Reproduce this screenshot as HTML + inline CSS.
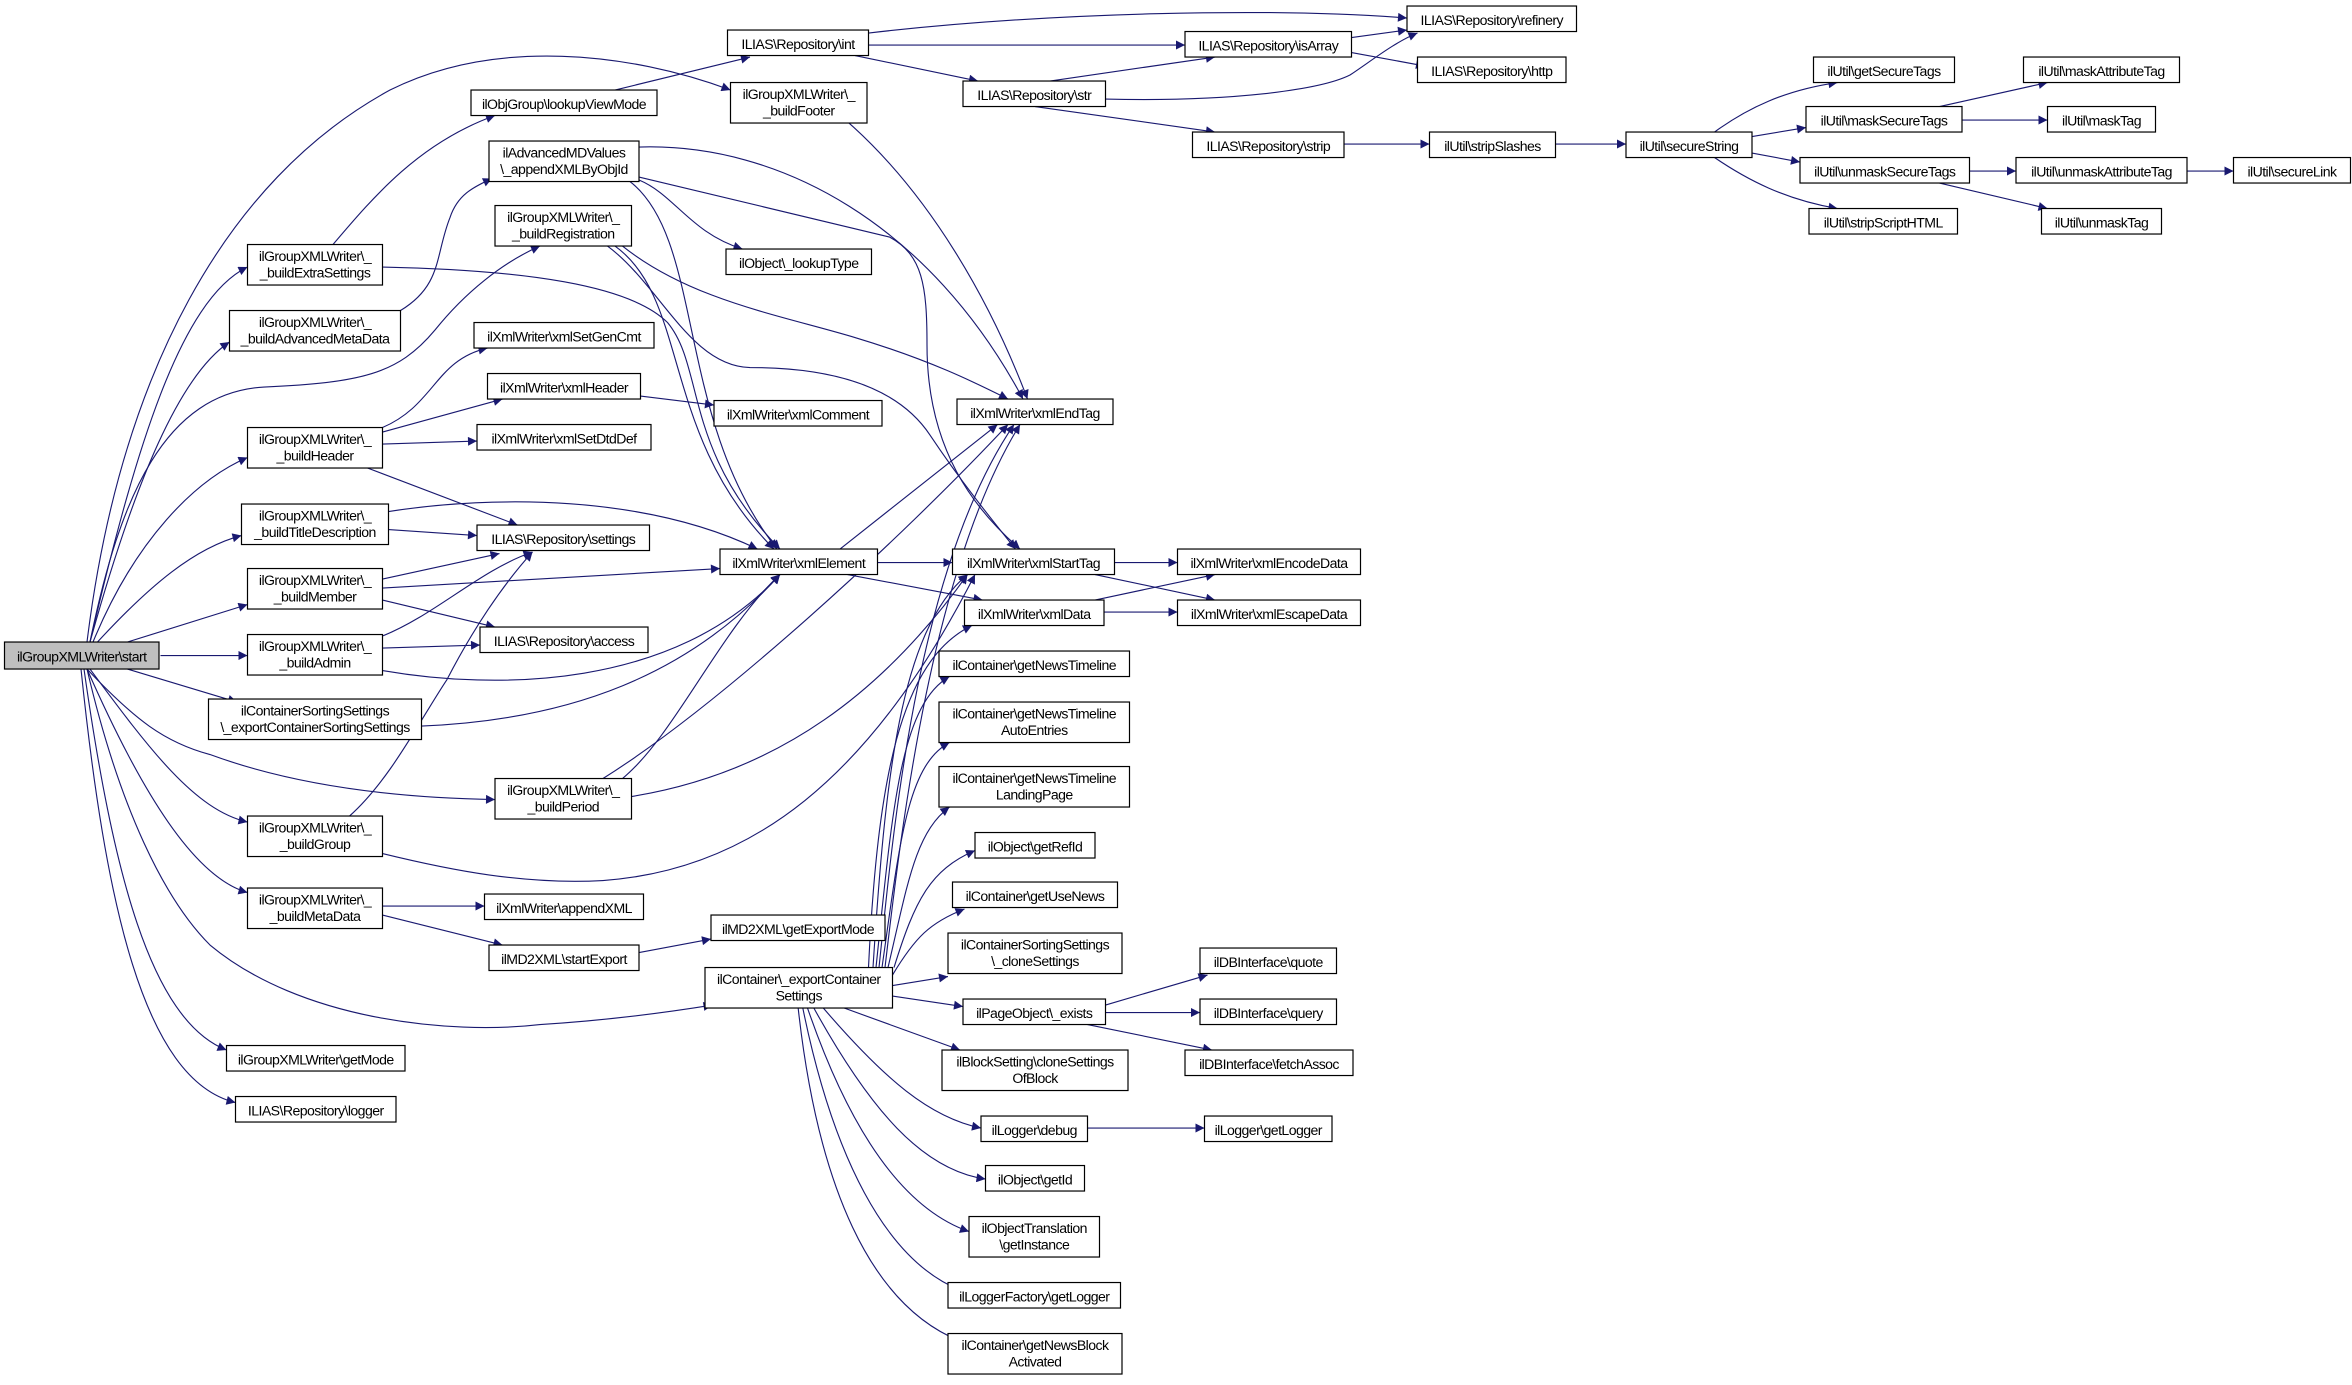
<!DOCTYPE html>
<html><head><meta charset="utf-8"><style>
html,body{margin:0;padding:0;background:#fff}
svg{display:block}
text{font-family:"Liberation Sans",sans-serif;font-size:9.4px;letter-spacing:-0.38px;fill:#000;text-anchor:middle}
.n{fill:#fff;stroke:#000;stroke-width:0.8}
.e{fill:none;stroke:#191970;stroke-width:0.75}
</style></head><body>
<svg width="2352" height="1385" viewBox="0 0 1568 923.3" xmlns="http://www.w3.org/2000/svg">
<defs><marker id="a" viewBox="0 0 10 10" refX="10" refY="5" markerWidth="8" markerHeight="6" markerUnits="userSpaceOnUse" orient="auto"><path d="M0,0 L10,5 L0,10 z" fill="#191970"/></marker></defs>
<g class="e" marker-end="url(#a)">
<!-- start edges -->
<path d="M58,428 C80,250 150,120 260,60 C330,25 420,35 487,60"/>
<path d="M60,428 C90,300 120,200 165,178"/>
<path d="M60,428 C90,320 120,250 153,228"/>
<path d="M60,428 C80,330 110,262 176,258 C240,255 265,250 290,220 C310,195 335,175 360,164"/>
<path d="M62,428 C90,360 130,320 165,305"/>
<path d="M65,428 C100,390 130,365 161,357"/>
<path d="M85,428 L165,403"/>
<path d="M107,437 L165,437"/>
<path d="M85,446 L158,468"/>
<path d="M58,446 C90,480 110,495 140,503 C200,525 270,532 330,533"/>
<path d="M60,446 C100,500 130,540 165,548"/>
<path d="M58,446 C95,530 130,585 165,595"/>
<path d="M58,446 C80,540 110,600 140,630 C200,680 300,690 360,683 C410,680 450,674 475,670"/>
<path d="M56,446 C75,580 100,680 151,700"/>
<path d="M54,446 C70,600 95,720 157,735"/>
<!-- second column -->
<path d="M222,163 C250,130 280,95 330,77"/>
<path d="M255,178 C350,180 420,190 445,215 C470,245 455,300 520,366"/>
<path d="M267,207 C295,190 290,170 300,145 C305,130 315,125 328,119"/>
<path d="M426,120 C450,130 460,155 495,166"/>
<path d="M420,121 C470,160 450,280 518,366"/>
<path d="M426,98 C520,95 620,150 682,266"/>
<path d="M426,118 L593,158 C615,170 618,190 618,230 C618,300 650,340 680,366"/>
<path d="M410,164 C460,200 440,290 516,366"/>
<path d="M415,164 C460,200 520,210 570,225 C620,240 650,255 672,266"/>
<path d="M405,164 C440,190 460,244 500,245 C560,245 600,260 620,290 C640,320 660,345 677,366"/>
<path d="M410,60 L500,38"/>
<path d="M255,285 C290,270 290,240 325,232"/>
<path d="M255,288 L335,266"/>
<path d="M255,296 L318,294"/>
<path d="M245,312 L345,350"/>
<path d="M427,264 L476,270"/>
<path d="M259,353 L318,357"/>
<path d="M259,341 C330,330 430,330 505,366"/>
<path d="M255,386 L333,369"/>
<path d="M255,392 L480,379"/>
<path d="M255,400 L330,418"/>
<path d="M255,424 C290,410 320,380 355,368"/>
<path d="M255,432 L320,430"/>
<path d="M255,447 C330,460 450,460 520,383"/>
<path d="M281,484 C380,480 460,450 520,383"/>
<path d="M402,519 C480,470 600,360 672,283"/>
<path d="M415,519 C450,490 480,420 520,383"/>
<path d="M421,531 C520,515 590,460 645,383"/>
<path d="M233,544 C260,520 280,480 298,453 C315,420 335,390 355,368"/>
<path d="M255,569 C300,580 350,590 402,587 C500,580 580,520 650,383"/>
<path d="M255,604 L323,604"/>
<path d="M255,610 L335,630"/>
<path d="M426,635 L474,626"/>
<!-- top right -->
<path d="M579,22 C700,8 850,5 938,12"/>
<path d="M579,30 L790,30"/>
<path d="M570,37 L652,54"/>
<path d="M700,54 L810,38"/>
<path d="M737,66 C820,68 880,60 900,50 C915,40 930,28 945,22"/>
<path d="M901,25 L938,20"/>
<path d="M901,35 L950,44"/>
<path d="M690,71 L810,88"/>
<path d="M896,96 L953,96"/>
<path d="M1037,96 L1084,96"/>
<path d="M1143,88 C1165,72 1190,60 1225,55"/>
<path d="M1168,91 L1204,85"/>
<path d="M1168,102 L1200,108"/>
<path d="M1143,105 C1165,120 1190,133 1225,139"/>
<path d="M1293,71 L1365,55"/>
<path d="M1308,80 L1365,80"/>
<path d="M1313,114 L1344,114"/>
<path d="M1293,122 L1365,139"/>
<path d="M1458,114 L1489,114"/>
<!-- xml cluster -->
<path d="M566,82 C620,130 660,200 685,266"/>
<path d="M560,366 L665,283"/>
<path d="M585,375 L635,375"/>
<path d="M565,383 L655,400"/>
<path d="M743,375 L785,375"/>
<path d="M730,383 L810,400"/>
<path d="M730,400 L810,383"/>
<path d="M736,408 L785,408"/>
<!-- exportContainerSettings -->
<path d="M590,645 C600,560 620,380 680,283"/>
<path d="M586,645 C595,560 610,380 676,283"/>
<path d="M582,645 C590,520 600,420 645,383"/>
<path d="M579,645 C585,520 600,440 648,417"/>
<path d="M584,645 C595,540 600,470 633,451"/>
<path d="M588,645 C600,560 605,510 633,495"/>
<path d="M592,645 C605,590 610,555 633,538"/>
<path d="M596,645 C610,600 620,580 650,567"/>
<path d="M595,650 C610,625 620,615 643,606"/>
<path d="M595,657 L632,651"/>
<path d="M595,664 L642,671"/>
<path d="M560,671 L640,700"/>
<path d="M548,671 C590,720 620,745 654,752"/>
<path d="M542,671 C580,740 615,780 657,786"/>
<path d="M538,671 C565,750 600,805 646,821"/>
<path d="M535,671 C555,770 590,840 640,860"/>
<path d="M532,671 C545,790 580,870 640,894"/>
<path d="M737,670 L805,650"/>
<path d="M737,675 L800,675"/>
<path d="M725,683 L808,700"/>
<path d="M725,752 L803,752"/>
</g>
<g>
<rect class="n" x="3" y="428" width="103" height="18" style="fill:#bfbfbf"/><text x="54.5" y="441">ilGroupXMLWriter\start</text>
<rect class="n" x="314" y="60" width="124" height="17"/><text x="376" y="72.5">ilObjGroup\lookupViewMode</text>
<rect class="n" x="485" y="20" width="94" height="17"/><text x="532" y="32.5">ILIAS\Repository\int</text>
<rect class="n" x="484" y="166" width="97" height="17"/><text x="532.5" y="178.5">ilObject\_lookupType</text>
<rect class="n" x="316" y="215" width="120" height="17"/><text x="376" y="227.5">ilXmlWriter\xmlSetGenCmt</text>
<rect class="n" x="325" y="249" width="102" height="17"/><text x="376" y="261.5">ilXmlWriter\xmlHeader</text>
<rect class="n" x="476" y="267" width="112" height="17"/><text x="532" y="279.5">ilXmlWriter\xmlComment</text>
<rect class="n" x="318" y="283" width="116" height="17"/><text x="376" y="295.5">ilXmlWriter\xmlSetDtdDef</text>
<rect class="n" x="318" y="350" width="115" height="17"/><text x="375.5" y="362.5">ILIAS\Repository\settings</text>
<rect class="n" x="480" y="366" width="105" height="17"/><text x="532.5" y="378.5">ilXmlWriter\xmlElement</text>
<rect class="n" x="320" y="418" width="112" height="17"/><text x="376" y="430.5">ILIAS\Repository\access</text>
<rect class="n" x="323" y="596" width="106" height="17"/><text x="376" y="608.5">ilXmlWriter\appendXML</text>
<rect class="n" x="474" y="610" width="116" height="17"/><text x="532" y="622.5">ilMD2XML\getExportMode</text>
<rect class="n" x="326" y="630" width="100" height="17"/><text x="376" y="642.5">ilMD2XML\startExport</text>
<rect class="n" x="151" y="697" width="119" height="17"/><text x="210.5" y="709.5">ilGroupXMLWriter\getMode</text>
<rect class="n" x="157" y="731" width="107" height="17"/><text x="210.5" y="743.5">ILIAS\Repository\logger</text>
<rect class="n" x="938" y="4" width="113" height="17"/><text x="994.5" y="16.5">ILIAS\Repository\refinery</text>
<rect class="n" x="790" y="21" width="111" height="17"/><text x="845.5" y="33.5">ILIAS\Repository\isArray</text>
<rect class="n" x="945" y="38" width="99" height="17"/><text x="994.5" y="50.5">ILIAS\Repository\http</text>
<rect class="n" x="642" y="54" width="95" height="17"/><text x="689.5" y="66.5">ILIAS\Repository\str</text>
<rect class="n" x="795" y="88" width="101" height="17"/><text x="845.5" y="100.5">ILIAS\Repository\strip</text>
<rect class="n" x="953" y="88" width="84" height="17"/><text x="995" y="100.5">ilUtil\stripSlashes</text>
<rect class="n" x="638" y="266" width="104" height="17"/><text x="690" y="278.5">ilXmlWriter\xmlEndTag</text>
<rect class="n" x="635" y="366" width="108" height="17"/><text x="689" y="378.5">ilXmlWriter\xmlStartTag</text>
<rect class="n" x="785" y="366" width="122" height="17"/><text x="846" y="378.5">ilXmlWriter\xmlEncodeData</text>
<rect class="n" x="643" y="400" width="93" height="17"/><text x="689.5" y="412.5">ilXmlWriter\xmlData</text>
<rect class="n" x="785" y="400" width="122" height="17"/><text x="846" y="412.5">ilXmlWriter\xmlEscapeData</text>
<rect class="n" x="626" y="434" width="127" height="17"/><text x="689.5" y="446.5">ilContainer\getNewsTimeline</text>
<rect class="n" x="650" y="555" width="80" height="17"/><text x="690" y="567.5">ilObject\getRefId</text>
<rect class="n" x="635" y="588" width="110" height="17"/><text x="690" y="600.5">ilContainer\getUseNews</text>
<rect class="n" x="800" y="632" width="91" height="17"/><text x="845.5" y="644.5">ilDBInterface\quote</text>
<rect class="n" x="642" y="666" width="95" height="17"/><text x="689.5" y="678.5">ilPageObject\_exists</text>
<rect class="n" x="800" y="666" width="91" height="17"/><text x="845.5" y="678.5">ilDBInterface\query</text>
<rect class="n" x="790" y="700" width="112" height="17"/><text x="846" y="712.5">ilDBInterface\fetchAssoc</text>
<rect class="n" x="654" y="744" width="71" height="17"/><text x="689.5" y="756.5">ilLogger\debug</text>
<rect class="n" x="803" y="744" width="85" height="17"/><text x="845.5" y="756.5">ilLogger\getLogger</text>
<rect class="n" x="657" y="777" width="66" height="17"/><text x="690" y="789.5">ilObject\getId</text>
<rect class="n" x="632" y="855" width="115" height="17"/><text x="689.5" y="867.5">ilLoggerFactory\getLogger</text>
<rect class="n" x="1084" y="88" width="84" height="17"/><text x="1126" y="100.5">ilUtil\secureString</text>
<rect class="n" x="1209" y="38" width="94" height="17"/><text x="1256" y="50.5">ilUtil\getSecureTags</text>
<rect class="n" x="1204" y="71" width="104" height="17"/><text x="1256" y="83.5">ilUtil\maskSecureTags</text>
<rect class="n" x="1200" y="105" width="113" height="17"/><text x="1256.5" y="117.5">ilUtil\unmaskSecureTags</text>
<rect class="n" x="1206" y="139" width="99" height="17"/><text x="1255.5" y="151.5">ilUtil\stripScriptHTML</text>
<rect class="n" x="1349" y="38" width="104" height="17"/><text x="1401" y="50.5">ilUtil\maskAttributeTag</text>
<rect class="n" x="1365" y="71" width="72" height="17"/><text x="1401" y="83.5">ilUtil\maskTag</text>
<rect class="n" x="1344" y="105" width="114" height="17"/><text x="1401" y="117.5">ilUtil\unmaskAttributeTag</text>
<rect class="n" x="1489" y="105" width="78" height="17"/><text x="1528" y="117.5">ilUtil\secureLink</text>
<rect class="n" x="1361" y="139" width="80" height="17"/><text x="1401" y="151.5">ilUtil\unmaskTag</text>

<rect class="n" x="487" y="55" width="91" height="27"/><text x="532.5" y="66">ilGroupXMLWriter\_</text><text x="532.5" y="77">_buildFooter</text>
<rect class="n" x="326" y="94" width="100" height="27"/><text x="376" y="105">ilAdvancedMDValues</text><text x="376" y="116">\_appendXMLByObjId</text>
<rect class="n" x="330" y="137" width="91" height="27"/><text x="375.5" y="148">ilGroupXMLWriter\_</text><text x="375.5" y="159">_buildRegistration</text>
<rect class="n" x="165" y="163" width="90" height="27"/><text x="210" y="174">ilGroupXMLWriter\_</text><text x="210" y="185">_buildExtraSettings</text>
<rect class="n" x="153" y="207" width="114" height="27"/><text x="210" y="218">ilGroupXMLWriter\_</text><text x="210" y="229">_buildAdvancedMetaData</text>
<rect class="n" x="165" y="285" width="90" height="27"/><text x="210" y="296">ilGroupXMLWriter\_</text><text x="210" y="307">_buildHeader</text>
<rect class="n" x="161" y="336" width="98" height="27"/><text x="210" y="347">ilGroupXMLWriter\_</text><text x="210" y="358">_buildTitleDescription</text>
<rect class="n" x="165" y="379" width="90" height="27"/><text x="210" y="390">ilGroupXMLWriter\_</text><text x="210" y="401">_buildMember</text>
<rect class="n" x="165" y="423" width="90" height="27"/><text x="210" y="434">ilGroupXMLWriter\_</text><text x="210" y="445">_buildAdmin</text>
<rect class="n" x="139" y="466" width="142" height="27"/><text x="210" y="477">ilContainerSortingSettings</text><text x="210" y="488">\_exportContainerSortingSettings</text>
<rect class="n" x="330" y="519" width="91" height="27"/><text x="375.5" y="530">ilGroupXMLWriter\_</text><text x="375.5" y="541">_buildPeriod</text>
<rect class="n" x="165" y="544" width="90" height="27"/><text x="210" y="555">ilGroupXMLWriter\_</text><text x="210" y="566">_buildGroup</text>
<rect class="n" x="165" y="592" width="90" height="27"/><text x="210" y="603">ilGroupXMLWriter\_</text><text x="210" y="614">_buildMetaData</text>
<rect class="n" x="470" y="645" width="125" height="27"/><text x="532.5" y="656">ilContainer\_exportContainer</text><text x="532.5" y="667">Settings</text>
<rect class="n" x="626" y="468" width="127" height="27"/><text x="689.5" y="479">ilContainer\getNewsTimeline</text><text x="689.5" y="490">AutoEntries</text>
<rect class="n" x="626" y="511" width="127" height="27"/><text x="689.5" y="522">ilContainer\getNewsTimeline</text><text x="689.5" y="533">LandingPage</text>
<rect class="n" x="632" y="622" width="116" height="27"/><text x="690" y="633">ilContainerSortingSettings</text><text x="690" y="644">\_cloneSettings</text>
<rect class="n" x="628" y="700" width="124" height="27"/><text x="690" y="711">ilBlockSetting\cloneSettings</text><text x="690" y="722">OfBlock</text>
<rect class="n" x="646" y="811" width="87" height="27"/><text x="689.5" y="822">ilObjectTranslation</text><text x="689.5" y="833">\getInstance</text>
<rect class="n" x="632" y="889" width="116" height="27"/><text x="690" y="900">ilContainer\getNewsBlock</text><text x="690" y="911">Activated</text>
</g>
</svg>
</body></html>
